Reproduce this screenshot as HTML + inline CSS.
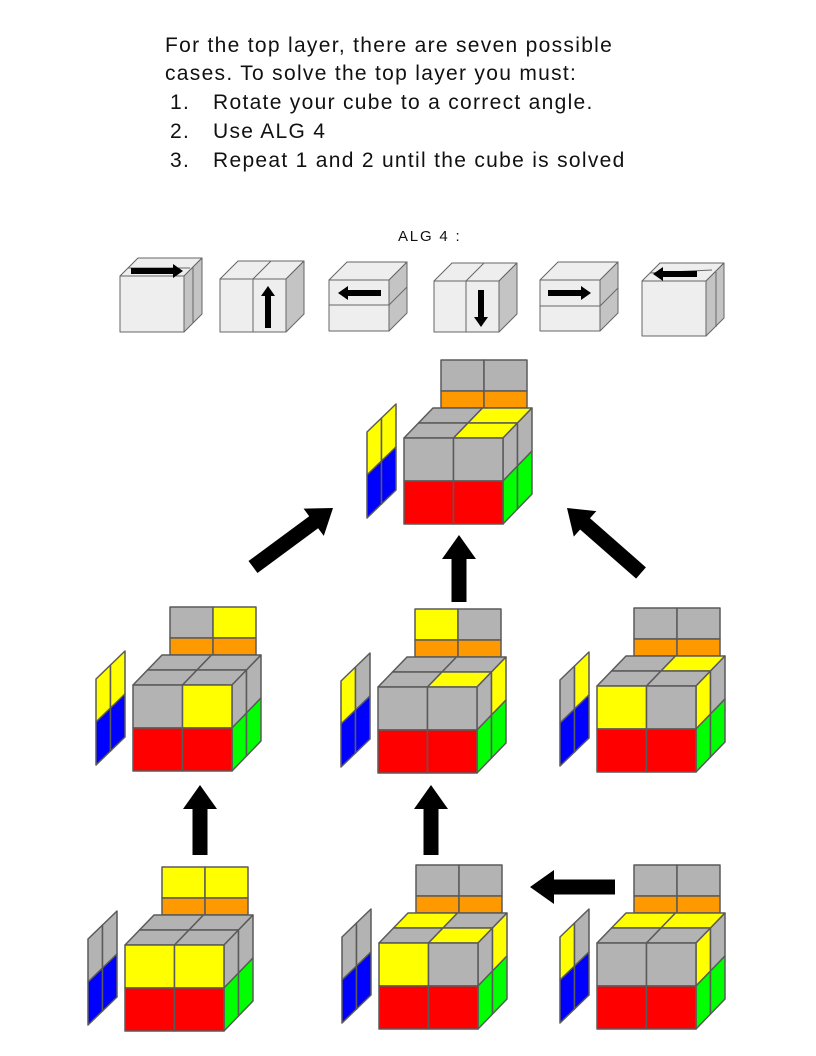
<!DOCTYPE html>
<html><head><meta charset="utf-8"><style>
body{margin:0;background:#fff;}
#wrap{position:relative;width:816px;height:1056px;overflow:hidden;font-family:"Liberation Sans",sans-serif;}
.t{position:absolute;font-size:21px;color:#111;white-space:nowrap;letter-spacing:1.3px;}
</style></head><body>
<div id="wrap">
<div class="t" style="left:165px;top:34px">For the top layer, there are seven possible</div>
<div class="t" style="left:165px;top:62px">cases. To solve the top layer you must:</div>
<div class="t" style="left:170px;top:91px">1.<span style="position:absolute;left:43px">Rotate your cube to a correct angle.</span></div>
<div class="t" style="left:170px;top:120px">2.<span style="position:absolute;left:43px">Use ALG 4</span></div>
<div class="t" style="left:170px;top:149px">3.<span style="position:absolute;left:43px">Repeat 1 and 2 until the cube is solved</span></div>
<div class="t" style="left:398px;top:228px;font-size:15px;letter-spacing:1.8px">ALG 4 :</div>
<svg id="svg" width="816" height="1056" style="position:absolute;left:0;top:0"></svg>
</div>
<script>
var G='#b3b3b3',Y='#ffff00',O='#ff9900',R='#ff0000',GR='#00ff00',B='#0000ff';
var cubeX=[404,133,378,597,125,379,597];
var cubeY=[438,685,687,686,945,943,943];
var backCols=[[G,G],[G,Y],[Y,G],[G,G],[Y,Y],[G,G],[G,G]];
var topCols=[[G,Y,G,Y],[G,G,G,G],[G,G,G,Y],[G,Y,G,G],[G,G,G,G],[Y,G,G,Y],[Y,Y,G,G]];
var frontCols=[[G,G],[G,Y],[G,G],[Y,G],[Y,Y],[Y,G],[G,G]];
var rightCols=[[G,G],[G,G],[G,Y],[Y,G],[G,G],[G,Y],[Y,G]];
var leftCols=[[Y,Y],[Y,Y],[Y,G],[G,Y],[G,G],[G,G],[Y,G]];
var NS='http://www.w3.org/2000/svg',svg=document.getElementById('svg');
function poly(pts,fill,name,sw,stroke){var p=document.createElementNS(NS,'polygon');
p.setAttribute('points',pts.map(function(q){return q[0].toFixed(1)+','+q[1].toFixed(1)}).join(' '));
p.setAttribute('fill',fill);p.setAttribute('stroke',stroke||'#5a5a5a');p.setAttribute('stroke-width',sw==null?1.5:sw);
p.setAttribute('stroke-linejoin','round');


svg.appendChild(p);return p;}
function quad(f,u0,u1,v0,v1,fill,name){poly([f(u0,v0),f(u1,v0),f(u1,v1),f(u0,v1)],fill,name);}
var W=99,H=86,DX=29,DY=-30;
for(var i=0;i<cubeX.length;i++){
 var x=cubeX[i],y=cubeY[i];
 for(var c=0;c<2;c++){
  poly([[x+37+c*43,y-78],[x+80+c*43,y-78],[x+80+c*43,y-47],[x+37+c*43,y-47]],backCols[i][c],'back-sticker');
  poly([[x+37+c*43,y-47],[x+80+c*43,y-47],[x+80+c*43,y-30],[x+37+c*43,y-30]],O,'back-orange-sticker');
 }
 (function(x,y){
 var lf=function(u,v){return [x-37+u*29,y-6-u*28+v*86];};
 for(var c=0;c<2;c++){quad(lf,c/2,(c+1)/2,0,0.5,leftCols[i][c],'left-sticker');quad(lf,c/2,(c+1)/2,0.5,1,B,'left-blue-sticker');}
 var tf=function(u,v){return [x+u*W+v*DX,y+v*DY];};
 quad(tf,0,0.5,0.5,1,topCols[i][0],'top-sticker');quad(tf,0.5,1,0.5,1,topCols[i][1],'top-sticker');
 quad(tf,0,0.5,0,0.5,topCols[i][2],'top-sticker');quad(tf,0.5,1,0,0.5,topCols[i][3],'top-sticker');
 var rf=function(u,v){return [x+W+u*DX,y+u*DY+v*H];};
 quad(rf,0,0.5,0,0.5,rightCols[i][0],'right-sticker');quad(rf,0.5,1,0,0.5,rightCols[i][1],'right-sticker');
 quad(rf,0,0.5,0.5,1,GR,'right-green-sticker');quad(rf,0.5,1,0.5,1,GR,'right-green-sticker');
 var ff=function(u,v){return [x+u*W,y+v*H];};
 quad(ff,0,0.5,0,0.5,frontCols[i][0],'front-sticker');quad(ff,0.5,1,0,0.5,frontCols[i][1],'front-sticker');
 quad(ff,0,0.5,0.5,1,R,'front-red-sticker');quad(ff,0.5,1,0.5,1,R,'front-red-sticker');
 })(x,y);
}
function arrow(x1,y1,x2,y2,sw,hw,hl,name){
 var dx=x2-x1,dy=y2-y1,L=Math.hypot(dx,dy),ux=dx/L,uy=dy/L,nx=-uy,ny=ux;
 var bx=x2-ux*hl,by=y2-uy*hl;
 poly([[x1+nx*sw/2,y1+ny*sw/2],[bx+nx*sw/2,by+ny*sw/2],[bx+nx*hw/2,by+ny*hw/2],[x2,y2],[bx-nx*hw/2,by-ny*hw/2],[bx-nx*sw/2,by-ny*sw/2],[x1-nx*sw/2,y1-ny*sw/2]],'#000',name,0);
}
arrow(253,567,333,508,15,34,24,'arrow-up-right');
arrow(459,602,459,535,15,34,24,'arrow-up-center');
arrow(641,573,567,508,15,34,24,'arrow-up-left');
arrow(200,855,200,785,15,34,24,'arrow-up-a');
arrow(431,855,431,785,15,34,24,'arrow-up-b');
arrow(615,887,530,887,15,34,24,'arrow-left');
var LG='#eeeeee',DG='#c4c4c4';
function small(x,y,w,h,d,name){
 poly([[x,y],[x+w,y],[x+w+d,y-d],[x+d,y-d]],LG,name+'-top',1,'#666');
 poly([[x+w,y],[x+w+d,y-d],[x+w+d,y+h-d],[x+w,y+h]],DG,name+'-right',1,'#666');
 poly([[x,y],[x+w,y],[x+w,y+h],[x,y+h]],LG,name+'-front',1,'#666');
}
function line(x1,y1,x2,y2){var l=document.createElementNS(NS,'line');l.setAttribute('x1',x1);l.setAttribute('y1',y1);l.setAttribute('x2',x2);l.setAttribute('y2',y2);l.setAttribute('stroke','#666');l.setAttribute('stroke-width',1);


svg.appendChild(l);}
small(120,276,64,56,18,'alg-step-1');line(193,267,193,323);line(120+8,276-8,182+8,276-8);
arrow(131,271,183,271,6,14,10,'alg-arrow-1');
small(220,279,66,53,18,'alg-step-2');line(253,279,253,332);line(253,279,271,261);
arrow(268,328,268,286,6,14,10,'alg-arrow-2');
small(329,280,60,51,18,'alg-step-3');line(329,305,389,305);line(389,305,407,287);
arrow(381,293,338,293,6,14,10,'alg-arrow-3');
small(434,281,65,51,18,'alg-step-4');line(466,281,466,332);line(466,281,484,263);
arrow(481,290,481,327,6,14,10,'alg-arrow-4');
small(540,280,60,51,18,'alg-step-5');line(540,306,600,306);line(600,306,618,288);
arrow(548,293,591,293,6,14,10,'alg-arrow-5');
small(642,281,64,55,18,'alg-step-6');line(716,272,716,327);line(650,273,712,270);
arrow(697,274,653,274,6,14,10,'alg-arrow-6');
</script>
</body></html>
